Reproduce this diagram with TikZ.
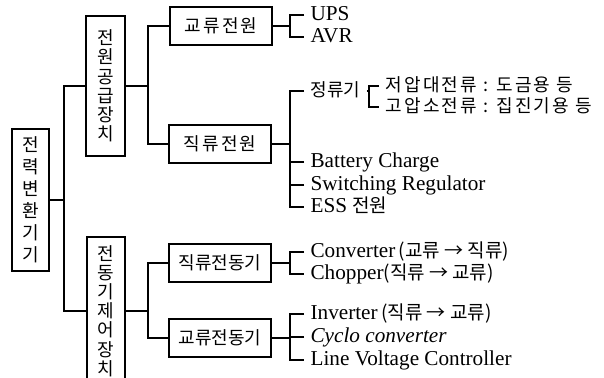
\documentclass[tikz,border=0pt]{standalone}
\usepackage{fontspec}
\setmainfont{Liberation Serif}
\newfontfamily\kr{Noto Sans CJK KR}
\newfontfamily\krwide{Noto Sans CJK KR}[LetterSpace=12]
\usetikzlibrary{calc}

\begin{document}
\begin{tikzpicture}[x=0.5pt, y=-0.5pt, line width=0.6pt,
  vbox/.style={draw, inner sep=0pt, align=center, font=\kr\fontsize{9}{9.6}\selectfont},
  hbox/.style={draw, minimum width=51pt, minimum height=19pt, inner sep=0pt, font=\kr\fontsize{9}{10}\selectfont},
  leaf/.style={anchor=west, inner sep=3pt, text height=7pt, text depth=2pt, font=\fontsize{10.6}{12}\selectfont},
  kleaf/.style={leaf, font=\kr\fontsize{9}{10}\selectfont},
  stub/.style={line width=1pt}]
\useasboundingbox (0,0) rectangle (604,377);

\node[vbox, minimum width=18.5pt, minimum height=71pt, font=\kr\fontsize{9}{11}\selectfont] (conv) at (30.5,200) {전\\력\\변\\환\\기\\기};
\node[vbox, minimum width=19.5pt, minimum height=70pt] (supply) at (105.5,86) {전\\원\\공\\급\\장\\치};
\node[vbox, minimum width=19pt, minimum height=74pt] (motor) at (106,311) {전\\동\\기\\제\\어\\장\\치};
\coordinate (trunk) at (64,0);
\draw[stub] (conv.east) -- (trunk |- conv.east);
\draw (supply.west) -| (trunk |- conv.east) |- (motor.west);

\node[hbox, font=\krwide\fontsize{9}{10}\selectfont] (ac) at (221,26) {교류전원};
\node[hbox, font=\krwide\fontsize{9}{10}\selectfont] (dc) at (220,144) {직류전원};
\node[hbox] (dcm) at (220,263) {직류전동기};
\node[hbox] (acm) at (220,338) {교류전동기};
\coordinate (fork) at (148,0);
\draw[stub] (supply.east) -- (fork |- supply.east);
\draw[stub] (motor.east) -- (fork |- motor.east);
\draw (ac.west) -| (fork |- supply.east) |- (dc.west);
\draw (dcm.west) -| (fork |- motor.east) |- (acm.west);

\coordinate (leafj) at (290,0);
\foreach \n/\y/\t in {ups/15/UPS, avr/37/AVR, bat/162/Battery Charge, sw/185/Switching Regulator,
  ess/207/ESS {\kr\fontsize{9.5}{10}\selectfont 전원}, cnv/252/Converter\,{\kr\fontsize{9.5}{10}\selectfont(교류 → 직류)},
  chp/274/Chopper{\kr\fontsize{9.5}{10}\selectfont(직류 → 교류)}, inv/314/Inverter\,{\kr\fontsize{9.5}{10}\selectfont(직류 → 교류)},
  cyc/337/\textit{Cyclo converter}, lvc/360/Line Voltage Controller}
  \node[leaf] (\n) at (304,\y) {\t};
\node[kleaf] (rect) at (304,91) {정류기};
\node[kleaf, font=\krwide\fontsize{9}{10}\selectfont] (lowv) at (379,86) {저압대전류 : 도금용 등};
\node[kleaf, font=\krwide\fontsize{9}{10}\selectfont] (highv) at (379,107) {고압소전류 : 집진기용 등};

\draw[stub] (ac.east) -- (leafj |- ac.east);
\draw (ups.west) -| (leafj |- ac.east) |- (avr.west);
\draw[stub] (dc.east) -- (leafj |- dc.east);
\draw (rect.west) -| (leafj |- dc.east) |- (ess.west);
\foreach \n in {bat,sw} \draw (\n.west) -- (leafj |- \n.west);
\draw[stub] (dcm.east) -- (leafj |- dcm.east);
\draw (cnv.west) -| (leafj |- dcm.east) |- (chp.west);
\draw[stub] (acm.east) -- (leafj |- acm.east);
\draw (inv.west) -| (leafj |- acm.east) |- (lvc.west);
\draw (cyc.west) -- (leafj |- cyc.west);

\coordinate (rectj) at (369,0);
\draw (rect.east) -- (rectj |- rect.east);
\draw (lowv.west) -| (rectj |- rect.east) |- (highv.west);
\end{tikzpicture}
\end{document}
